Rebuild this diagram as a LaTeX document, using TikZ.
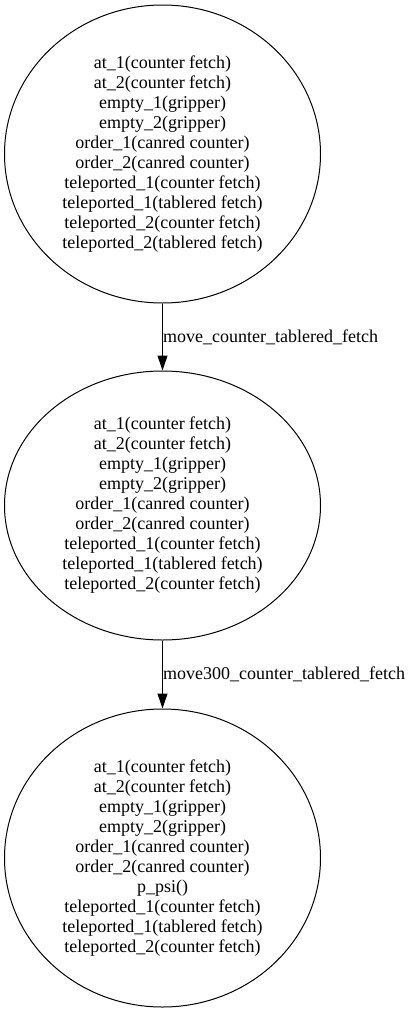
\documentclass[tikz,border=0pt]{standalone}
\usepackage{fontspec}
\setmainfont{Liberation Serif}
\usetikzlibrary{arrows.meta,shapes.geometric}
\begin{document}
\begin{tikzpicture}[x=1pt,y=-1pt,
  state/.style={draw,ellipse,line width=1pt,inner sep=0pt,minimum width=316pt,align=center,font=\fontsize{18}{20}\selectfont},
  edgelabel/.style={anchor=west,inner sep=0pt,font=\fontsize{18}{20}\selectfont},
  arr/.style={-{Triangle[length=15pt,width=10pt]},line width=1pt}]
\useasboundingbox (0,0) rectangle (412,1012);
\node[state,minimum height=298pt] (n1) at (162.5,154) {at\_1(counter fetch)\\at\_2(counter fetch)\\empty\_1(gripper)\\empty\_2(gripper)\\order\_1(canred counter)\\order\_2(canred counter)\\teleported\_1(counter fetch)\\teleported\_1(tablered fetch)\\teleported\_2(counter fetch)\\teleported\_2(tablered fetch)};
\node[state,minimum height=269pt] (n2) at (162.5,505.5) {at\_1(counter fetch)\\at\_2(counter fetch)\\empty\_1(gripper)\\empty\_2(gripper)\\order\_1(canred counter)\\order\_2(canred counter)\\teleported\_1(counter fetch)\\teleported\_1(tablered fetch)\\teleported\_2(counter fetch)};
\node[state,minimum height=298pt] (n3) at (162.5,858) {at\_1(counter fetch)\\at\_2(counter fetch)\\empty\_1(gripper)\\empty\_2(gripper)\\order\_1(canred counter)\\order\_2(canred counter)\\p\_psi()\\teleported\_1(counter fetch)\\teleported\_1(tablered fetch)\\teleported\_2(counter fetch)};
\draw[arr] (n1.south) -- (n2.north);
\draw[arr] (n2.south) -- (n3.north);
\node[edgelabel] (l1) at (163,337) {move\_counter\_tablered\_fetch};
\node[edgelabel] (l2) at (163,674) {move300\_counter\_tablered\_fetch};
\end{tikzpicture}
\end{document}
